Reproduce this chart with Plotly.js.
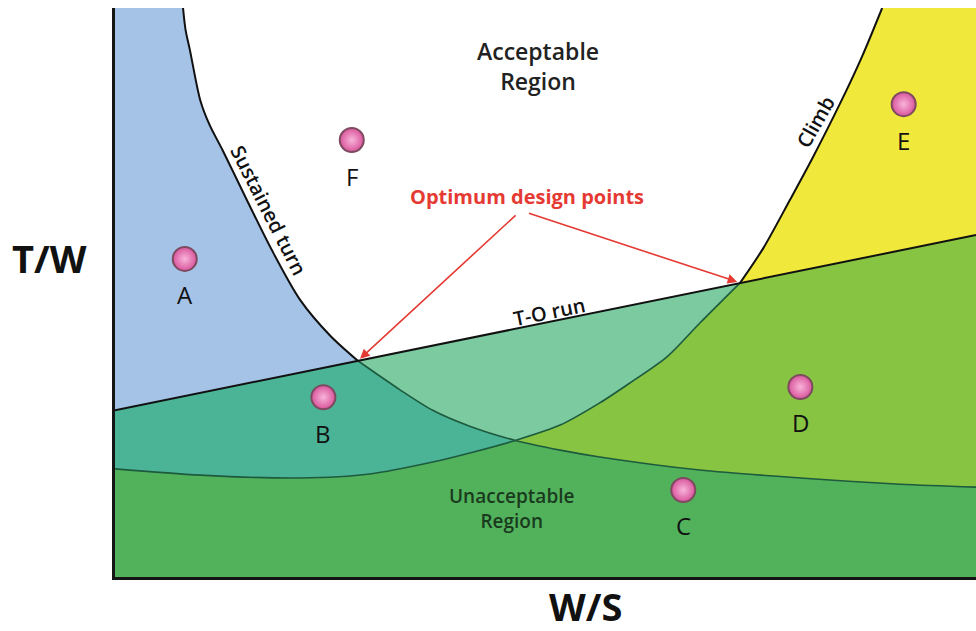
<!DOCTYPE html>
<html>
<head>
<meta charset="utf-8">
<script src="https://cdn.plot.ly/plotly-3.0.1.min.js"></script>
<style>
html,body{margin:0;padding:0;background:#fff;}
#chart{width:976px;height:631px;}
#chart path.js-fill{shape-rendering:crispEdges !important;}
</style>
</head>
<body>
<div id="chart"></div>
<script>
// ---- Data (W/S on x, T/W on y, arbitrary units) ----
const X_MIN = 0, X_MAX = 10, Y_MIN = 0, Y_MAX = 10;

// Sustained turn constraint curve
const turnX = [0.79, 0.82, 0.87, 0.99, 1.10, 1.25, 1.53, 1.82, 2.15, 2.50, 2.82, 3.31, 3.69, 4.12, 4.65, 5.17, 5.63, 6.79, 7.96, 9.12, 10.0];
const turnY = [10.0, 9.61, 9.26, 8.38, 7.94, 7.50, 6.63, 5.75, 4.87, 4.24, 3.80, 3.29, 2.93, 2.65, 2.40, 2.23, 2.11, 1.88, 1.74, 1.63, 1.58];

// Climb constraint curve
const climbX = [0, 0.99, 2.15, 2.96, 3.69, 4.12, 4.65, 5.17, 5.63, 5.98, 6.41, 6.79, 7.26, 7.53, 7.84, 8.10, 8.44, 8.68, 8.91];
const climbY = [1.90, 1.79, 1.74, 1.81, 2.02, 2.18, 2.40, 2.67, 3.06, 3.41, 3.87, 4.46, 5.17, 5.78, 6.63, 7.36, 8.38, 9.16, 10.0];

// Take-off run constraint (straight line)
const toX = [0, 2.82, 7.26, 10];
const toY = [2.93, 3.80, 5.17, 6.01];

// Crossing W/S values of the constraints
const crossTurnTO = 2.82, crossTurnClimb = 4.65, crossClimbTO = 7.26;

// Design points
const ptNames = ["A", "B", "C", "D", "E", "F"];
const ptX = [0.81, 2.42, 6.60, 7.96, 9.16, 2.75];
const ptY = [5.59, 3.16, 1.53, 3.34, 8.31, 7.68];

// Region colours
const C_BLUE = '#a5c3e7', C_YELLOW = '#f0e83a', C_LTEAL = '#7ccaa0', C_MTEAL = '#4cb496',
      C_YGREEN = '#86c442', C_GREEN = '#52b25c';

// ---- helpers ----
const SMOOTH = 0.8;
function slice(xs, ys, a, b) {
  const px = [], py = [];
  for (let i = 0; i < xs.length; i++) {
    if (xs[i] >= a - 1e-9 && xs[i] <= b + 1e-9) { px.push(xs[i]); py.push(ys[i]); }
  }
  return [px, py];
}
function curveFill(p, color, fillMode, spline) {
  return {x: p[0], y: p[1], type: 'scatter', mode: 'lines', fill: fillMode, fillcolor: color,
          line: {width: 0, color: color, shape: spline ? 'spline' : 'linear', smoothing: SMOOTH},
          hoverinfo: 'skip', showlegend: false};
}
function lineTrace(p, color, w, spline) {
  return {x: p[0], y: p[1], type: 'scatter', mode: 'lines',
          line: {color: color, width: w, shape: spline ? 'spline' : 'linear', smoothing: SMOOTH},
          hoverinfo: 'skip', showlegend: false};
}

const climbEnd = climbX[climbX.length - 1];
const traces = [
  // below sustained-turn curve
  curveFill([turnX, turnY], C_BLUE, 'tozerox', true),
  // below climb curve
  curveFill([climbX, climbY], C_YELLOW, 'tozeroy', true),
  curveFill([[climbEnd, X_MAX, X_MAX, climbEnd], [Y_MIN, Y_MIN, Y_MAX, Y_MAX]], C_YELLOW, 'toself', false),
  // below take-off line
  curveFill([toX, toY], C_LTEAL, 'tozeroy', false),
  // below take-off and turn
  curveFill(slice(toX, toY, X_MIN, crossTurnTO), C_MTEAL, 'tozeroy', false),
  curveFill(slice(turnX, turnY, crossTurnTO, X_MAX), C_MTEAL, 'tozeroy', true),
  // below take-off and climb
  curveFill(slice(climbX, climbY, X_MIN, crossClimbTO), C_YGREEN, 'tozeroy', true),
  curveFill(slice(toX, toY, crossClimbTO, X_MAX), C_YGREEN, 'tozeroy', false),
  // below all three
  curveFill(slice(climbX, climbY, X_MIN, crossTurnClimb), C_GREEN, 'tozeroy', true),
  curveFill(slice(turnX, turnY, crossTurnClimb, X_MAX), C_GREEN, 'tozeroy', true),
  // constraint lines
  lineTrace(slice(turnX, turnY, X_MIN, crossTurnTO), '#111', 2, true),
  lineTrace(slice(turnX, turnY, crossTurnTO, X_MAX), '#1d5a3e', 1.6, true),
  lineTrace(slice(climbX, climbY, X_MIN, crossClimbTO), '#1d5a3e', 1.6, true),
  lineTrace(slice(climbX, climbY, crossClimbTO, X_MAX), '#111', 2, true),
  lineTrace([toX, toY], '#111', 2, false),
  {x: ptX, y: ptY, type: 'scatter', mode: 'markers', hoverinfo: 'skip', showlegend: false,
   marker: {size: 24, color: '#d9559c', gradient: {type: 'radial', color: '#f8b4da'},
            line: {color: '#7e4a60', width: 2}}}
];

const F = '"Open Sans", "DejaVu Sans", sans-serif';
const annotations = [];
ptNames.forEach((n, i) => annotations.push({x: ptX[i], y: ptY[i], text: n, showarrow: false, yshift: -36,
  xanchor: 'center', yanchor: 'middle', font: {family: F, size: 24, color: '#111'}}));

annotations.push(
  {x: 4.91, y: 8.98, text: 'Acceptable<br>Region', showarrow: false, xanchor: 'center', yanchor: 'middle',
   font: {family: F, size: 23, color: '#222', weight: 600}},
  {x: 4.61, y: 1.21, text: 'Unacceptable<br>Region', showarrow: false, xanchor: 'center', yanchor: 'middle',
   font: {family: F, size: 19, color: '#1a3a1e', weight: 600}},
  {x: 4.79, y: 6.68, text: 'Optimum design points', showarrow: false, xanchor: 'center', yanchor: 'middle',
   font: {family: F, size: 20, color: '#e53a33', weight: 700}},
  {x: 5.05, y: 4.66, text: 'T-O run', showarrow: false, textangle: -11.5, font: {family: F, size: 20, color: '#111', weight: 600}},
  {x: 1.79, y: 6.45, text: 'Sustained turn', showarrow: false, textangle: 63, font: {family: F, size: 20, color: '#111', weight: 600}},
  {x: 8.14, y: 8.0, text: 'Climb', showarrow: false, textangle: -60, font: {family: F, size: 20, color: '#111', weight: 600}},
  {x: crossTurnTO, y: 3.80, ax: 4.67, ay: 6.38, axref: 'x', ayref: 'y', text: '', showarrow: true,
   arrowhead: 2, arrowsize: 1.2, arrowwidth: 1.6, arrowcolor: '#e53a33', standoff: 3},
  {x: crossClimbTO, y: 5.17, ax: 4.79, ay: 6.40, axref: 'x', ayref: 'y', text: '', showarrow: true,
   arrowhead: 2, arrowsize: 1.2, arrowwidth: 1.6, arrowcolor: '#e53a33', standoff: 3},
  {xref: 'paper', yref: 'paper', x: -0.0755, y: 0.561, text: 'T/W', showarrow: false, xanchor: 'center', yanchor: 'middle',
   font: {family: F, size: 38, color: '#111', weight: 700}},
  {xref: 'paper', yref: 'paper', x: 0.546, y: -0.051, text: 'W/S', showarrow: false, xanchor: 'center', yanchor: 'middle',
   font: {family: F, size: 38, color: '#111', weight: 700}}
);

const axisBase = {showgrid: false, zeroline: false, showticklabels: false, ticks: '',
  showline: true, linecolor: '#151515', linewidth: 3, mirror: false, fixedrange: true};

const layout = {
  width: 976, height: 631,
  margin: {l: 115, r: 0, t: 8, b: 54},
  paper_bgcolor: '#ffffff', plot_bgcolor: '#ffffff',
  xaxis: Object.assign({range: [X_MIN, X_MAX]}, axisBase),
  yaxis: Object.assign({range: [Y_MIN, Y_MAX]}, axisBase),
  annotations: annotations,
  showlegend: false
};

Plotly.newPlot('chart', traces, layout, {displayModeBar: false, staticPlot: true}).then(function () {
  document.querySelectorAll('#chart path.js-fill').forEach(function (p) {
    p.style.shapeRendering = 'crispEdges';
  });
});
</script>
</body>
</html>
